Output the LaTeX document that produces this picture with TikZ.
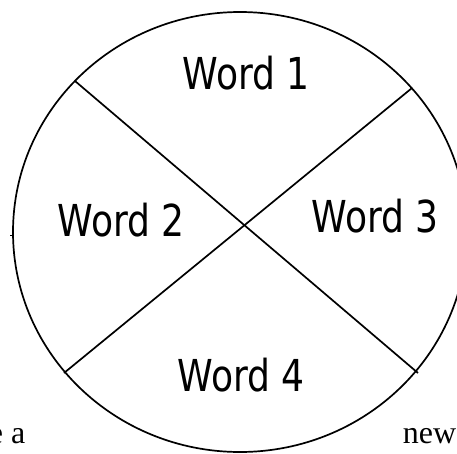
\documentclass[tikz,border=0pt]{standalone}
\usepackage{fontspec}
\setmainfont{Liberation Serif}
\newfontfamily\wordfont[FakeStretch=0.82]{DejaVu Sans}
\begin{document}
\begin{tikzpicture}[x=1pt,y=-1pt,line width=1.7pt,
  lbl/.style={font=\wordfont\fontsize{44}{50}\selectfont,anchor=base,inner sep=0pt},
  bgtext/.style={font=\fontsize{32}{38}\selectfont,anchor=base west,inner sep=0pt}]
\useasboundingbox (0,0) rectangle (457,453);
\draw (240,232) ellipse [x radius=227pt, y radius=220pt];
\coordinate (ul) at (75,81);
\coordinate (ur) at (412,88);
\coordinate (ll) at (64,373);
\coordinate (lr) at (418,373);
\draw (ul) -- (lr);
\draw (ur) -- (ll);
\coordinate (tickA) at (10,235);
\coordinate (tickB) at (13,235);
\draw[line width=1pt] (tickA) -- (tickB);
\node[lbl] (w1) at (246,89) {Word 1};
\node[lbl] (w2) at (121,236) {Word 2};
\node[lbl] (w3) at (375,232) {Word 3};
\node[lbl] (w4) at (241,391) {Word 4};
\node[bgtext] (bga) at (-12,443) {e a};
\node[bgtext] (bgn) at (402,443) {new};
\end{tikzpicture}
\end{document}
